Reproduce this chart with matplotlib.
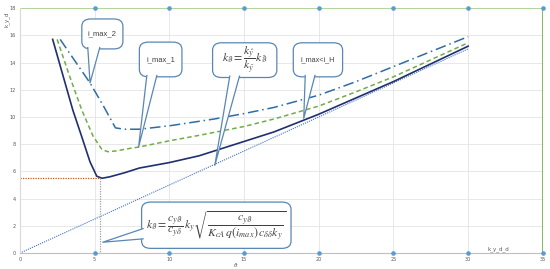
import numpy as np
import matplotlib
matplotlib.use('Agg')
import matplotlib.pyplot as plt
from matplotlib.patches import FancyBboxPatch, Polygon

# curve data
x_solid = [2.2, 2.9, 3.55, 4.1, 4.7, 5.15, 5.5, 6.0, 7.0, 8.0, 10.0, 12.0, 15.0, 17.0, 20.0, 22.5, 25.0, 27.5, 30.0]
y_solid = [15.7, 13.0, 10.5, 8.7, 6.7, 5.65, 5.5, 5.6, 5.9, 6.25, 6.65, 7.15, 8.2, 8.9, 10.2, 11.4, 12.6, 13.9, 15.2]

x_dash = [2.5, 3.3, 4.15, 4.9, 5.5, 5.9, 6.4, 7.4, 8.0, 10.0, 12.0, 15.0, 17.0, 20.0, 22.5, 25.0, 27.5, 30.0]
y_dash = [15.7, 13.1, 10.5, 8.6, 7.6, 7.45, 7.5, 7.7, 7.8, 8.25, 8.65, 9.3, 9.85, 10.8, 11.85, 12.95, 14.2, 15.45]

x_dashdot = [2.7, 3.7, 4.7, 5.6, 6.4, 7.0, 8.0, 10.0, 13.0, 15.0, 17.0, 20.0, 22.5, 25.0, 27.5, 30.0]
y_dashdot = [15.7, 14.1, 12.5, 10.8, 9.2, 9.1, 9.1, 9.35, 9.85, 10.25, 10.7, 11.6, 12.6, 13.7, 14.8, 15.9]

x_diag = [0, 30]
y_diag = [0, 15.0]

x_min, y_min = 5.4, 5.5

x_marks = [5, 10, 15, 20, 25, 30, 35]
x_ticks = [0, 5, 10, 15, 20, 25, 30, 35]
y_ticks = [0, 2, 4, 6, 8, 10, 12, 14, 16, 18]

fig = plt.figure(figsize=(5.5, 2.69), dpi=100)
ax = fig.add_axes([0.036, 0.059, 0.951, 0.911])

ax.plot(x_diag, y_diag, color='#4472C4', lw=0.8, ls=(0, (1, 1)))
ax.plot(x_solid, y_solid, color='#1F3070', lw=1.2)
ax.plot(x_dash, y_dash, color='#70AD47', lw=1.1, ls=(0, (3, 2)))
ax.plot(x_dashdot, y_dashdot, color='#2E6DA4', lw=1.1, ls=(0, (7, 2.5, 1, 2.5)))
ax.plot([0, x_min], [y_min, y_min], color='#C55A11', lw=0.9, ls=(0, (1, 1)))
ax.plot([x_min, x_min], [y_min, 0], color='#A0A0A0', lw=0.9, ls=(0, (1, 1)))

# green frame on top and right with markers
ax.plot([0, 35], [18, 18], color='#A9D18E', lw=1.2, zorder=1)
ax.plot([35, 35], [0, 18], color='#70AD47', lw=1.2, zorder=1)
ax.plot(x_marks, [18] * len(x_marks), 'o', color='#5B9BD5', ms=2.3, zorder=3, clip_on=False)
ax.plot(x_marks, [0] * len(x_marks), 'o', color='#5B9BD5', ms=2.3, zorder=3, clip_on=False)

ax.set_xlim(0, 35)
ax.set_ylim(0, 18)
ax.set_xticks(x_ticks)
ax.set_yticks(y_ticks)
ax.tick_params(labelsize=3.5, colors='#595959', length=0, pad=3)
ax.grid(True, color='#E4E4E4', lw=0.6)
ax.set_axisbelow(True)
for s in ['top', 'right']:
    ax.spines[s].set_visible(False)
ax.spines['left'].set_color('#D9D9D9')
ax.spines['bottom'].set_color('#BFBFBF')

fig.text(0.013, 0.93, 'k_y_d', rotation=90, fontsize=4, color='#595959', ha='center', va='center')
fig.text(0.907, 0.075, 'k_y_d_d', fontsize=4, color='#595959', ha='center', va='center')
fig.text(0.428, 0.015, r'$\vartheta$', fontsize=4, color='#595959', ha='center', va='center')

edge = '#5A86B4'


def callout(x0, x1, y0, y1, base, tip, text, size, math=False):
    box = FancyBboxPatch((x0, y0), x1 - x0, y1 - y0,
                         boxstyle='round,pad=0,rounding_size=0.6',
                         mutation_aspect=13.6 / 14.94,
                         fc='white', ec=edge, lw=0.9, zorder=5)
    ax.add_patch(box)
    ax.add_patch(Polygon([base[0], base[1], tip], closed=True, fc='white', ec='none', zorder=6))
    ax.plot([base[0][0], tip[0], base[1][0]], [base[0][1], tip[1], base[1][1]],
            color=edge, lw=0.9, zorder=7)
    kw = dict(math_fontfamily='stix') if math else dict(family='Liberation Sans')
    ax.text((x0 + x1) / 2, (y0 + y1) / 2, text, fontsize=size, ha='center', va='center',
            color='#404040', zorder=8, **kw)


callout(4.15, 6.9, 15.0, 17.2, [(4.55, 15.1), (5.35, 15.1)], (4.7, 12.5), 'i_max_2', 5.5)
callout(8.0, 10.85, 12.95, 15.5, [(8.5, 13.05), (9.17, 13.05)], (7.95, 7.8), 'i_max_1', 5.5)
callout(12.9, 17.2, 12.9, 15.45, [(14.05, 13.0), (14.7, 13.0)], (13.05, 6.45),
        r'$k_{\vartheta}=\dfrac{k_{\hat{y}}}{k_{\tilde{y}}}\,k_{\tilde{\vartheta}}$', 8.5, math=True)
callout(18.3, 21.6, 12.95, 15.45, [(19.1, 13.05), (19.75, 13.05)], (19.0, 9.9), 'i_max<i_H', 5.2)
callout(8.15, 18.15, 0.35, 3.75, [(8.25, 1.8), (8.25, 1.05)], (5.55, 0.8),
        r'$k_{\vartheta}=\dfrac{c_{y\vartheta}}{c_{y\delta}}\,k_{y}\sqrt{\dfrac{c_{y\vartheta}}{K_{cA}\,q(i_{max})\,c_{\delta\delta}k_{y}}}$',
        8.5, math=True)

fig.savefig('out.png', dpi=100)
